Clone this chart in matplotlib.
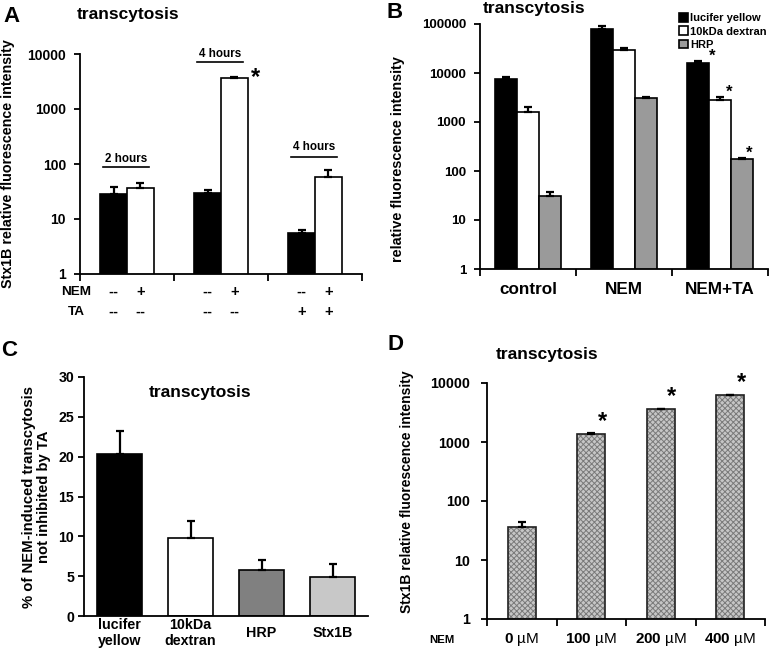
import matplotlib.pyplot as plt
import numpy as np
from matplotlib.ticker import NullLocator, FixedLocator
from matplotlib.transforms import blended_transform_factory

plt.rcParams['font.family'] = ['Liberation Sans', 'DejaVu Sans']
plt.rcParams['font.weight'] = 'bold'
plt.rcParams['axes.labelweight'] = 'bold'
plt.rcParams['mathtext.fontset'] = 'custom'
plt.rcParams['mathtext.rm'] = 'Liberation Sans'
plt.rcParams['mathtext.bf'] = 'Liberation Sans:bold'
plt.rcParams['hatch.linewidth'] = 0.7

# --- data, panel A (Stx1B, NEM / TA) ---
a_groups = ['2 hours', '4 hours', '4 hours']
a_black = [28, 29.5, 5.6]
a_black_err = [10, 4.5, 0.7]
a_white = [36, 3650, 58]
a_white_err = [9, 120, 20]
a_nem = [('--', '+'), ('--', '+'), ('--', '+')]
a_ta = [('--', '--'), ('--', '--'), ('+', '+')]

# --- data, panel B ---
b_cats = ['control', 'NEM', 'NEM+TA']
b_series = ['lucifer yellow', '10kDa dextran', 'HRP']
b_lucifer = [7600, 79000, 16000]
b_lucifer_err = [500, 10000, 1900]
b_dextran = [1600, 29000, 2850]
b_dextran_err = [400, 3500, 350]
b_hrp = [31, 3030, 173]
b_hrp_err = [6, 270, 8]
b_signif = [False, False, True]

# --- data, panel C ---
c_cats = ['lucifer\nyellow', '10kDa\ndextran', 'HRP', 'Stx1B']
c_vals = [20.3, 9.8, 5.75, 4.9]
c_err = [2.9, 2.1, 1.3, 1.6]

# --- data, panel D ---
d_nem = ['0', '100', '200', '400']
d_vals = [36, 1370, 3560, 6200]
d_err = [8, 30, 80, 100]
d_signif = [False, True, True, True]

W, H = 771, 649
fig = plt.figure(figsize=(W / 100, H / 100), dpi=100)


def rect(l, t, r, b):
    return [l / W, 1 - b / H, (r - l) / W, (b - t) / H]


def ftext(px, py, s, **kw):
    fig.text(px / W, 1 - py / H, s, ha='center', va='center', **kw)


def style(ax, size, pad):
    for s in ['top', 'right']:
        ax.spines[s].set_visible(False)
    for s in ['left', 'bottom']:
        ax.spines[s].set_linewidth(1.3)
    ax.tick_params(axis='y', direction='out', width=1.3, length=4, labelsize=size, pad=pad)


def logy(ax, top):
    ax.set_yscale('log')
    ax.set_ylim(1, top)
    ticks = [10 ** i for i in range(int(np.log10(top)) + 1)]
    ax.set_yticks(ticks)
    ax.set_yticklabels([str(t) for t in ticks])
    ax.yaxis.set_minor_locator(NullLocator())


def cat_ticks(ax, n):
    ax.set_xlim(-0.5, n - 0.5)
    ax.set_xticks(range(n))
    ax.xaxis.set_minor_locator(FixedLocator(np.arange(n + 1) - 0.5))
    ax.tick_params(axis='x', which='major', length=0)
    ax.tick_params(axis='x', which='minor', direction='out', length=5, width=1.3)


err_kw = dict(fmt='none', ecolor='k', elinewidth=1.6, capsize=3, capthick=1.6)

# ================= A =================
axA = fig.add_axes(rect(80, 54, 362, 274))
style(axA, 10, 6)
logy(axA, 10000)
cat_ticks(axA, 3)
axA.set_xticklabels([])
xa = np.arange(3)
wa = 0.285
axA.bar(xa - wa / 2, a_black, wa, color='k', edgecolor='k', lw=1.2)
axA.bar(xa + wa / 2, a_white, wa, color='white', edgecolor='k', lw=1.2)
axA.errorbar(xa - wa / 2, a_black, yerr=[np.zeros(3), a_black_err], **err_kw)
axA.errorbar(xa + wa / 2, a_white, yerr=[np.zeros(3), a_white_err], **err_kw)
axA.set_ylabel('Stx1B relative fluorescence intensity', fontsize=10.3)
axA.yaxis.set_label_coords(-0.232, 0.5)
trA = blended_transform_factory(axA.transData, axA.transAxes)
for i in range(3):
    for j, dx in enumerate([-wa / 2, wa / 2]):
        axA.text(i + dx, -0.082, a_nem[i][j], transform=trA, ha='center', va='center', fontsize=10.5)
        axA.text(i + dx, -0.173, a_ta[i][j], transform=trA, ha='center', va='center', fontsize=10.5)
axA.text(-0.014, -0.082, 'NEM', transform=axA.transAxes, ha='center', va='center', fontsize=9.7)
axA.text(-0.014, -0.173, 'TA', transform=axA.transAxes, ha='center', va='center', fontsize=9.7)
# time brackets
for i, (ly, ty) in enumerate([(0.486, 0.523), (0.964, 1.0), (0.532, 0.578)]):
    axA.plot([i - 0.255, i + 0.235], [ly, ly], transform=trA, color='k', lw=1.2, clip_on=False)
    axA.text(i - 0.01, ty, a_groups[i], transform=trA, ha='center', va='center', fontsize=8.4)
axA.text(1 + wa / 2 + 0.22, a_white[1] + a_white_err[1], '*', ha='center', va='center', fontsize=17)
ftext(11, 16, 'A', fontsize=16)
ftext(128, 15, 'transcytosis', fontsize=12.5)

# ================= B =================
axB = fig.add_axes(rect(480, 24, 768, 269))
style(axB, 9.5, 6)
logy(axB, 100000)
cat_ticks(axB, 3)
axB.set_xticklabels(b_cats, fontsize=12.3)
axB.tick_params(axis='x', which='major', pad=9)
xb = np.arange(3)
wb = 0.23
b_vals = [b_lucifer, b_dextran, b_hrp]
b_errs = [b_lucifer_err, b_dextran_err, b_hrp_err]
b_cols = ['k', 'white', '#9a9a9a']
star_dx = [0.15, 0.1, 0.07]
for k in range(3):
    xs = xb + (k - 1) * wb
    axB.bar(xs, b_vals[k], wb, color=b_cols[k], edgecolor='k', lw=1.2, label=b_series[k])
    axB.errorbar(xs, b_vals[k], yerr=[np.zeros(3), b_errs[k]], **err_kw)
    for i in range(3):
        if b_signif[i]:
            axB.text(xs[i] + star_dx[k], (b_vals[k][i] + b_errs[k][i]) * 1.25, '*',
                     ha='center', va='center', fontsize=12)
axB.set_ylabel('relative fluorescence intensity', fontsize=10.4)
axB.yaxis.set_label_coords(-0.262, 0.45)
axB.legend(loc='upper right', bbox_to_anchor=(1.01, 1.062), frameon=False, fontsize=8,
           handlelength=0.8, handleheight=0.8, handletextpad=0.2, labelspacing=0.28,
           borderaxespad=0)
ftext(395, 12, 'B', fontsize=16)
ftext(534, 8, 'transcytosis', fontsize=12.5)

# ================= C =================
axC = fig.add_axes(rect(84, 377, 368, 616))
style(axC, 10.2, 3)
axC.set_ylim(0, 30)
axC.set_yticks(range(0, 31, 5))
xc = np.arange(4)
c_cols = ['k', 'white', '#808080', '#c8c8c8']
axC.bar(xc, c_vals, 0.62, color=c_cols, edgecolor='k', lw=1.2)
axC.errorbar(xc, c_vals, yerr=[np.zeros(4), c_err], **err_kw)
axC.set_xlim(-0.5, 3.5)
axC.set_xticks(xc)
axC.set_xticklabels(c_cats, fontsize=10.3)
plt.setp(axC.get_xticklabels(), va='center')
axC.tick_params(axis='x', length=0, pad=12.5)
axC.set_ylabel('% of NEM-induced transcytosis\nnot inhibited by TA', fontsize=10.7, linespacing=1.15)
axC.yaxis.set_label_coords(-0.115, 0.5)
ftext(9, 350, 'C', fontsize=16)
axC.text(0.41, 0.935, 'transcytosis', transform=axC.transAxes, ha='center', va='center', fontsize=12.5)

# ================= D =================
axD = fig.add_axes(rect(487, 383, 765, 619))
style(axD, 10.3, 8)
logy(axD, 10000)
cat_ticks(axD, 4)
xd = np.arange(4)
axD.bar(xd, d_vals, 0.4, color='#c6c6c6', edgecolor='#7a7a7a', lw=0, hatch='xxxxxx')
axD.bar(xd, d_vals, 0.4, color='none', edgecolor='#202020', lw=1.2)
axD.errorbar(xd, d_vals, yerr=[np.zeros(4), d_err], **err_kw)
for i in range(4):
    if d_signif[i]:
        axD.text(xd[i] + 0.16, d_vals[i] * 1.65, '*', ha='center', va='center', fontsize=17)
axD.set_xticklabels([r'$\mathbf{%s}$ µM' % n for n in d_nem], fontsize=11, fontweight='normal')
axD.tick_params(axis='x', which='major', pad=8.5)
axD.set_ylabel('Stx1B relative fluorescence intensity', fontsize=10)
axD.yaxis.set_label_coords(-0.262, 0.54)
ftext(442, 640, 'NEM', fontsize=8.2)
ftext(396, 344, 'D', fontsize=16)
ftext(547, 355, 'transcytosis', fontsize=12.5)

fig.savefig('out.png', dpi=100)
